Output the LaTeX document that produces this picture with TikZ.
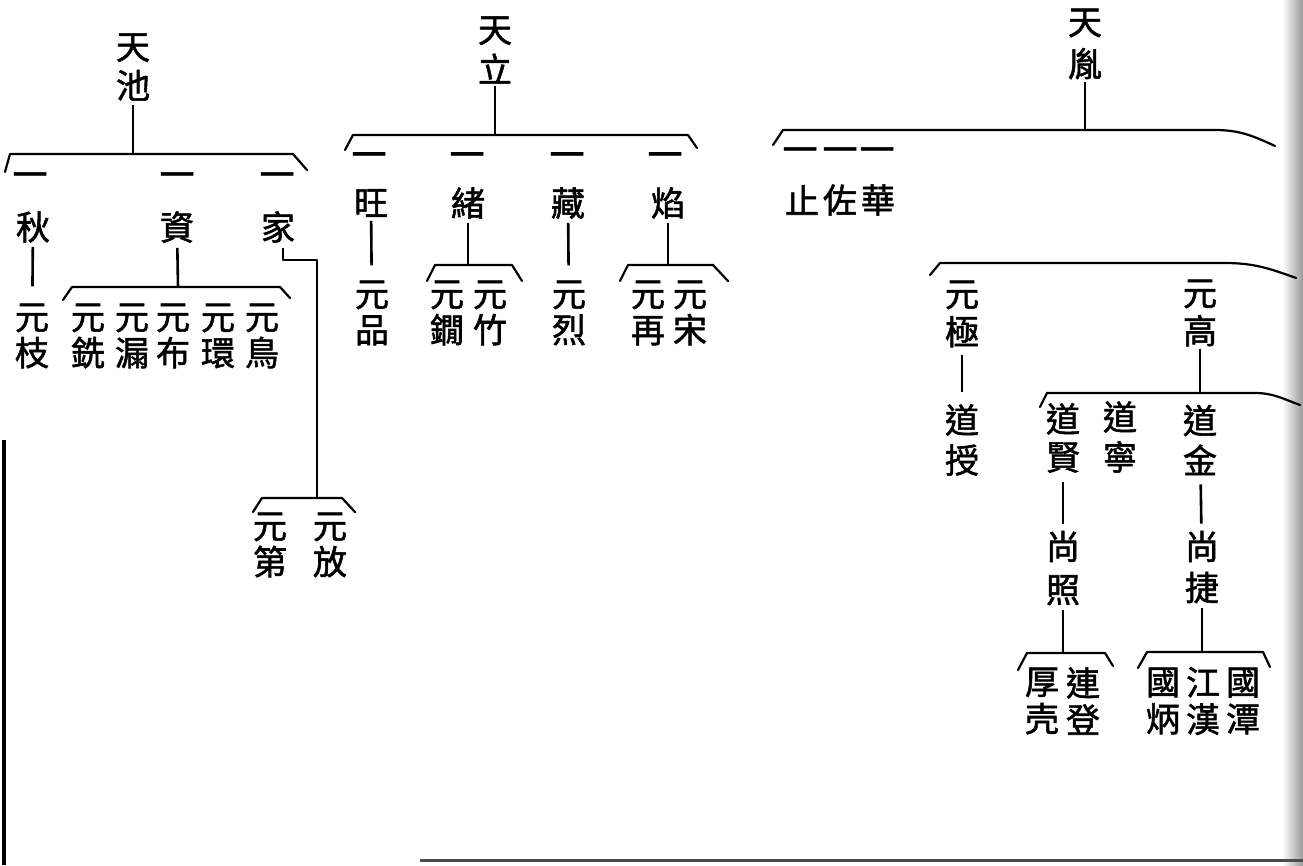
\documentclass[tikz,border=0pt]{standalone}
\usepackage{fontspec}
\newfontfamily\cjk[FakeBold=1.6]{Noto Sans CJK TC}
\usetikzlibrary{positioning}

\begin{document}
\begin{tikzpicture}[
x=1pt, y=-1pt,
person/.style={font=\cjk\fontsize{34}{#1}\selectfont, align=center, inner sep=0pt},
person/.default=38,
yi/.style={font=\cjk\fontsize{35}{35}\selectfont, inner sep=0pt},
fork/.style={line width=2.2pt, line join=round, line cap=round},
stem/.style={line width=2.6pt, shorten <=4pt}
]
\useasboundingbox (0,0) rectangle (1303,865);

% page edge
\shade[left color=white, right color=black!40] (1282,0) rectangle (1303,865);
\draw[line width=4pt] (4,440) -- (4,865);
\draw[line width=3pt, black!70] (420,860) -- (1303,860);

% 天池
\node[person=39] (tianchi) at (133,67) {天\\池};
\coordinate (chiF) at (133,154);
\draw[fork] (5,172) -- (10,154) -- (293,154) -- (307,170);
\node[yi] (yi1) at (30,180) {一};
\node[yi] (yi2) at (177,180) {一};
\node[yi] (yi3) at (277,180) {一};
\node[person] (qiu) at (33,227) {秋};
\node[person] (zi) at (177,227) {資};
\node[person] (jia) at (278,227) {家};
\node[person=36] (yuanzhi) at (32,336) {元\\枝};
\coordinate (ziF) at (178,287);
\draw[fork] (63,300) -- (72,287) -- (280,287) -- (290,298);
\node[person=36] (yuanxian) at (88,336) {元\\銑};
\node[person=36] (yuanlou) at (132,336) {元\\漏};
\node[person=36] (yuanbu) at (173,336) {元\\布};
\node[person=36] (yuanhuan) at (218,336) {元\\環};
\node[person=36] (yuanniao) at (262,336) {元\\鳥};
\coordinate (jiaK) at (283,260);
\coordinate (jiaF) at (317,498);
\draw[fork] (253,512) -- (262,498) -- (342,498) -- (355,512);
\node[person=36] (yuandi) at (270,545) {元\\第};
\node[person=36] (yuanfang) at (330,545) {元\\放};

\draw[stem] (tianchi) -- (chiF);
\draw[stem, shorten >=17pt] (qiu) -- (yuanzhi);
\draw[stem, shorten <=5pt] (zi) -- (ziF);
\draw[stem, shorten <=5pt, line join=round] (jia.south -| jiaK) -- (jiaK) -- (jiaK -| jiaF) -- (jiaF);

% 天立
\node[person=40] (tianli) at (495,50) {天\\立};
\coordinate (liF) at (495,135);
\draw[fork] (345,150) -- (353,135) -- (688,135) -- (697,148);
\node[yi] (yi4) at (369,160) {一};
\node[yi] (yi5) at (467,160) {一};
\node[yi] (yi6) at (567,160) {一};
\node[yi] (yi7) at (665,160) {一};
\node[person] (wang) at (371,203) {旺};
\node[person] (xu) at (468,203) {緒};
\node[person] (cang) at (568,203) {藏};
\node[person] (yan) at (668,203) {焰};
\node[person=36] (yuanpin) at (372,313) {元\\品};
\coordinate (xuF) at (468,265);
\draw[fork] (427,281) -- (435,265) -- (512,265) -- (522,281);
\node[person=36] (yuanjian) at (447,313) {元\\鐗};
\node[person=36] (yuanzhu) at (490,313) {元\\竹};
\node[person=36] (yuanlie) at (569,313) {元\\烈};
\coordinate (yanF) at (668,265);
\draw[fork] (620,281) -- (628,265) -- (713,265) -- (728,281);
\node[person=36] (yuanzai) at (648,313) {元\\再};
\node[person=36] (yuansong) at (690,313) {元\\宋};

\draw[stem, shorten <=2pt] (tianli) -- (liF);
\draw[stem, shorten >=15pt] (wang) -- (yuanpin);
\draw[stem] (xu) -- (xuF);
\draw[stem, shorten >=15pt] (cang) -- (yuanlie);
\draw[stem] (yan) -- (yanF);

% 天胤
\node[person=42] (tianyin) at (1085,44) {天\\胤};
\coordinate (yinF) at (1085,130);
\draw[fork] (773,145) -- (783,130) -- (1215,130) to[out=0,in=155] (1275,146);
\node[yi] (yi8) at (800,155) {一};
\node[yi] (yi9) at (840,155) {一};
\node[yi] (yi10) at (877,155) {一};
\node[person] (zhi) at (802,200) {止};
\node[person] (zuo) at (840,200) {佐};
\node[person] (hua) at (878,200) {華};
\draw[fork] (930,275) -- (940,263) -- (1225,263) to[out=0,in=160] (1296,278);
\node[person=38] (yuanji) at (962,314) {元\\極};
\node[person=38] (yuangao) at (1200,313) {元\\高};
\node[person=40] (daoshou) at (962,440) {道\\授};
\coordinate (gaoF) at (1200,393);
\draw[fork] (1040,407) -- (1047,393) -- (1255,393) to[out=0,in=160] (1300,405);
\node[person=38] (daoxian) at (1063,438) {道\\賢};
\node[person=40] (daoning) at (1120,437) {道\\寧};
\node[person=40] (daojin) at (1200,440) {道\\金};
\node[person=43] (shangzhao) at (1063,568) {尚\\照};
\node[person=41] (shangjie) at (1202,567) {尚\\捷};
\coordinate (zhaoF) at (1063,653);
\draw[fork] (1018,670) -- (1027,653) -- (1105,653) -- (1113,666);
\node[person=37] (houke) at (1042,701) {厚\\壳};
\node[person=37] (liandeng) at (1083,701) {連\\登};
\coordinate (jieF) at (1202,652);
\draw[fork] (1138,668) -- (1147,652) -- (1263,652) -- (1270,667);
\node[person=37] (guobing) at (1163,701) {國\\炳};
\node[person=37] (jianghan) at (1203,701) {江\\漢};
\node[person=37] (guotan) at (1243,701) {國\\潭};

\draw[stem, shorten <=2pt] (tianyin) -- (yinF);
\draw[stem, shorten <=7pt, shorten >=12pt] (yuanji) -- (daoshou);
\draw[stem, shorten <=2pt] (yuangao) -- (gaoF);
\draw[stem, shorten <=9pt, shorten >=7pt] (daoxian) -- (shangzhao);
\draw[stem, shorten <=9pt, shorten >=7pt] (daojin) -- (shangjie);
\draw[stem, shorten <=5pt] (shangzhao) -- (zhaoF);
\draw[stem, shorten <=5pt] (shangjie) -- (jieF);
\end{tikzpicture}
\end{document}
